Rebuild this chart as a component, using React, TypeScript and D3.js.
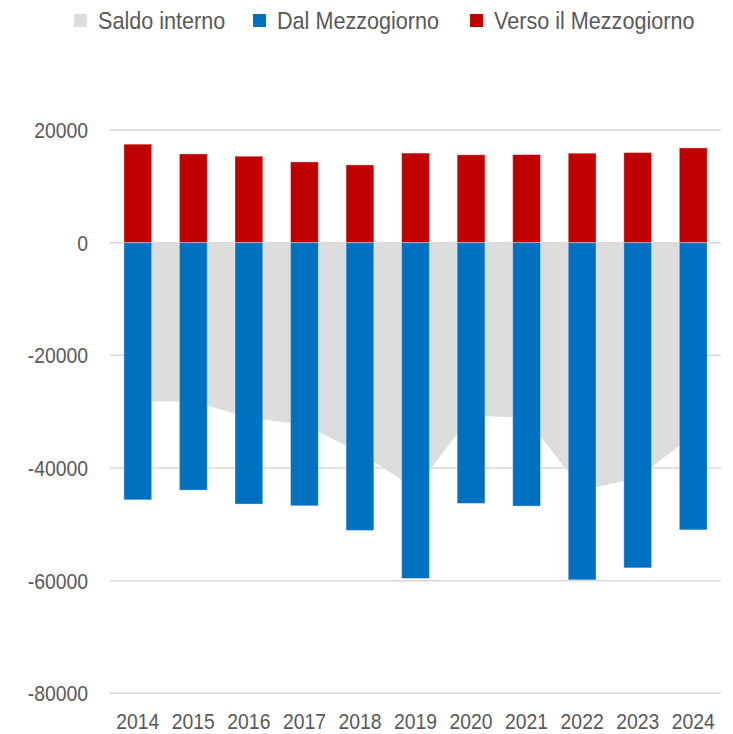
import React from 'react';
import * as d3 from 'd3';

const years = ['2014', '2015', '2016', '2017', '2018', '2019', '2020', '2021', '2022', '2023', '2024'];
const versoMezzogiorno = [17480, 15750, 15340, 14330, 13800, 15900, 15600, 15630, 15880, 15990, 16820];
const dalMezzogiorno = [-45650, -43930, -46410, -46710, -51080, -59610, -46290, -46770, -59860, -57730, -50980];
const saldoInterno = [-28170, -28180, -31070, -32380, -37280, -43710, -30690, -31140, -43980, -41740, -34160];
const yTicks = [20000, 0, -20000, -40000, -60000, -80000];

const legendItems = [
  { label: 'Saldo interno', color: '#DDDDDD', x: 74 },
  { label: 'Dal Mezzogiorno', color: '#0070C0', x: 253 },
  { label: 'Verso il Mezzogiorno', color: '#C00000', x: 470 },
];

const W = 733;
const H = 734;
const FONT = '"Liberation Sans", Arial, sans-serif';
const TEXT = '#595959';
const SQUEEZE = 0.88; // the source text looks a bit condensed

export default function App() {
  const x = d3.scaleBand<string>()
    .domain(years)
    .range([110, 721])
    .paddingInner(0.5)
    .paddingOuter(0.25);

  const y = d3.scaleLinear()
    .domain([-80000, 20000])
    .range([693.3, 130]);

  const bw = x.bandwidth();
  const cx = (d: string) => (x(d) || 0) + bw / 2;

  const area = d3.area<number>()
    .x((_, i) => cx(years[i]))
    .y0(y(0))
    .y1(d => y(d));

  return (
    <svg width={W} height={H} style={{ position: 'absolute', left: 0, top: 0, display: 'block', background: '#fff' }}>
      {/* gridlines */}
      {yTicks.map(t => (
        <line key={'g' + t} x1={110} x2={721} y1={y(t)} y2={y(t)} stroke="#D9D9D9" strokeWidth={1.5} />
      ))}

      {/* saldo area */}
      <path d={area(saldoInterno) || ''} fill="#DDDDDD" />

      {/* bars */}
      {years.map((yr, i) => (
        <g key={yr}>
          <rect x={x(yr)} y={y(versoMezzogiorno[i])} width={bw} height={y(0) - y(versoMezzogiorno[i])}
            fill="#C00000" stroke="#fff" strokeOpacity={0.35} strokeWidth={1} />
          <rect x={x(yr)} y={y(0)} width={bw} height={y(dalMezzogiorno[i]) - y(0)}
            fill="#0070C0" stroke="#fff" strokeOpacity={0.35} strokeWidth={1} />
        </g>
      ))}

      {/* y axis labels */}
      {yTicks.map(t => (
        <text key={'t' + t} transform={`translate(88,${y(t)}) scale(${SQUEEZE},1)`} dy="0.36em" textAnchor="end"
          fontFamily={FONT} fontSize={22} fill={TEXT}>{t}</text>
      ))}

      {/* x axis labels */}
      {years.map(yr => (
        <text key={'x' + yr} transform={`translate(${cx(yr)},729) scale(${SQUEEZE},1)`} textAnchor="middle"
          fontFamily={FONT} fontSize={22} fill={TEXT}>{yr}</text>
      ))}

      {/* legend */}
      {legendItems.map(l => (
        <g key={l.label}>
          <rect x={l.x} y={14} width={13} height={13} fill={l.color} />
          <text transform={`translate(${l.x + 24},29) scale(0.9,1)`} fontFamily={FONT} fontSize={24} fill={TEXT}>{l.label}</text>
        </g>
      ))}
    </svg>
  );
}
